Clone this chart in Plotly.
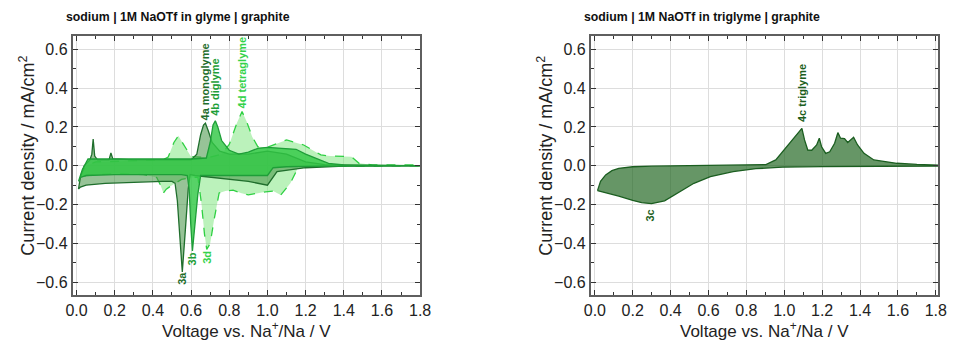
import plotly.graph_objects as go

# ---------------- data ----------------
# left panel: sodium | 1M NaOTf in glyme | graphite
mono_anodic_V = [0.01, 0.02, 0.04, 0.07, 0.08, 0.087, 0.095, 0.11, 0.17, 0.18, 0.19, 0.3, 0.45, 0.6, 0.63, 0.65,
                 0.665, 0.675, 0.69, 0.71, 0.75, 0.8, 0.9, 1.0, 1.1, 1.15, 1.2, 1.3, 1.5, 1.8]
mono_anodic_I = [-0.12, -0.06, 0.0, 0.03, 0.06, 0.137, 0.05, 0.03, 0.03, 0.066, 0.035, 0.03, 0.03, 0.03, 0.06, 0.16,
                 0.21, 0.219, 0.18, 0.12, 0.075, 0.06, 0.06, 0.075, 0.06, 0.04, 0.02, 0.006, 0.002, 0.001]
mono_cathodic_V = [1.8, 1.4, 1.2, 1.05, 1.0, 0.9, 0.8, 0.7, 0.62, 0.595, 0.585, 0.57, 0.554, 0.54, 0.528, 0.516,
                   0.5, 0.45, 0.3, 0.15, 0.05, 0.02, 0.01]
mono_cathodic_I = [0.0, -0.002, -0.01, -0.03, -0.1, -0.08, -0.07, -0.06, -0.05, -0.045, -0.12, -0.33, -0.546,
                   -0.35, -0.18, -0.09, -0.08, -0.08, -0.085, -0.09, -0.1, -0.11, -0.12]

di_anodic_V = [0.01, 0.03, 0.06, 0.2, 0.4, 0.6, 0.68, 0.7, 0.715, 0.727, 0.74, 0.76, 0.8, 0.85, 0.9, 0.95, 1.0,
               1.1, 1.15, 1.2, 1.26, 1.32, 1.4, 1.8]
di_anodic_I = [-0.08, -0.02, 0.035, 0.035, 0.035, 0.035, 0.04, 0.12, 0.21, 0.232, 0.2, 0.13, 0.08, 0.06, 0.07,
               0.09, 0.095, 0.09, 0.085, 0.06, 0.035, 0.012, 0.004, 0.002]
di_cathodic_V = [1.8, 1.3, 1.1, 1.03, 1.0, 0.9, 0.8, 0.7, 0.65, 0.635, 0.62, 0.607, 0.598, 0.59, 0.58, 0.55, 0.4,
                 0.2, 0.05, 0.02, 0.01]
di_cathodic_I = [0.0, -0.002, -0.005, -0.01, -0.05, -0.05, -0.05, -0.05, -0.05, -0.15, -0.32, -0.438, -0.3, -0.12,
                 -0.05, -0.045, -0.045, -0.045, -0.05, -0.06, -0.08]

tetra_anodic_V = [0.02, 0.05, 0.1, 0.3, 0.45, 0.48, 0.51, 0.533, 0.56, 0.6, 0.65, 0.7, 0.76, 0.8, 0.84, 0.867, 0.89,
                  0.92, 0.95, 1.0, 1.055, 1.1, 1.19, 1.28, 1.33, 1.38, 1.44, 1.48, 1.55, 1.8]
tetra_anodic_I = [-0.05, 0.0, 0.02, 0.025, 0.03, 0.045, 0.12, 0.154, 0.11, 0.047, 0.045, 0.045, 0.06, 0.11, 0.22,
                  0.279, 0.23, 0.15, 0.098, 0.095, 0.116, 0.133, 0.107, 0.056, 0.05, 0.047, 0.047, 0.013, 0.005, 0.004]
tetra_cathodic_V = [1.8, 1.3, 1.2, 1.16, 1.12, 1.07, 1.03, 0.99, 0.95, 0.9, 0.86, 0.82, 0.78, 0.747, 0.72, 0.7,
                    0.682, 0.67, 0.655, 0.636, 0.6, 0.55, 0.5, 0.47, 0.455, 0.44, 0.42, 0.35, 0.2, 0.05, 0.02]
tetra_cathodic_I = [0.0, -0.002, -0.004, -0.01, -0.09, -0.15, -0.13, -0.134, -0.14, -0.15, -0.14, -0.125, -0.13,
                    -0.14, -0.28, -0.4, -0.43, -0.35, -0.2, -0.06, -0.06, -0.07, -0.1, -0.12, -0.14, -0.1, -0.06,
                    -0.045, -0.04, -0.05, -0.06]

# right panel: sodium | 1M NaOTf in triglyme | graphite
tri_anodic_V = [0.014, 0.03, 0.057, 0.09, 0.126, 0.2, 0.3, 0.47, 0.7, 0.85, 0.903, 0.955, 1.007, 1.058, 1.093, 1.107,
                1.124, 1.145, 1.171, 1.185, 1.197, 1.219, 1.24, 1.266, 1.283, 1.297, 1.318, 1.335, 1.366, 1.387,
                1.421, 1.473, 1.594, 1.7, 1.81]
tri_anodic_I = [-0.128, -0.08, -0.047, -0.025, -0.013, -0.005, -0.002, 0.0, 0.001, 0.002, 0.006, 0.03, 0.09, 0.15,
                0.193, 0.133, 0.081, 0.08, 0.107, 0.142, 0.098, 0.064, 0.072, 0.116, 0.171, 0.142, 0.14, 0.12, 0.147,
                0.107, 0.064, 0.03, 0.013, 0.007, 0.004]
tri_cathodic_V = [1.81, 1.4, 1.2, 0.99, 0.85, 0.73, 0.61, 0.523, 0.437, 0.368, 0.299, 0.247, 0.2, 0.126, 0.014]
tri_cathodic_I = [-0.001, -0.002, -0.004, -0.007, -0.015, -0.03, -0.056, -0.09, -0.142, -0.18, -0.195, -0.19,
                  -0.178, -0.156, -0.128]

x_ticks = [0.0, 0.2, 0.4, 0.6, 0.8, 1.0, 1.2, 1.4, 1.6, 1.8]
y_ticks = [-0.6, -0.4, -0.2, 0.0, 0.2, 0.4, 0.6]

# peak labels: (text, V, I, colour, axis)
peak_labels = [
    ("4a monoglyme", 0.675, 0.431, "#1f6e2c", "1"),
    ("4b diglyme", 0.727, 0.403, "#1e9e38", "1"),
    ("4d tetraglyme", 0.867, 0.481, "#34d24a", "1"),
    ("3a", 0.554, -0.58, "#1f6e2c", "1"),
    ("3b", 0.607, -0.48, "#1e9e38", "1"),
    ("3d", 0.682, -0.47, "#34d24a", "1"),
    ("4c triglyme", 1.093, 0.374, "#1b5e20", "2"),
    ("3c", 0.29, -0.257, "#1b5e20", "2"),
]

# ---------------- figure ----------------
W, H = 963, 347
fig = go.Figure()


def loop(aV, aI, cV, cI, line_color, fill_color, dash, axis):
    fig.add_trace(go.Scatter(
        x=aV + cV, y=aI + cI, mode="lines", fill="toself", fillcolor=fill_color,
        line=dict(color=line_color, width=1.3, dash=dash),
        xaxis="x" + ("" if axis == "1" else axis), yaxis="y" + ("" if axis == "1" else axis),
        showlegend=False, hoverinfo="skip"))


loop(tetra_anodic_V, tetra_anodic_I, tetra_cathodic_V, tetra_cathodic_I,
     "#2fd043", "rgba(120,230,120,0.5)", "dash", "1")
loop(mono_anodic_V, mono_anodic_I, mono_cathodic_V, mono_cathodic_I,
     "#1f6e2c", "rgba(65,145,65,0.55)", "solid", "1")
loop(di_anodic_V, di_anodic_I, di_cathodic_V, di_cathodic_I,
     "#1e9e38", "rgba(50,200,70,0.82)", "solid", "1")
loop(tri_anodic_V, tri_anodic_I, tri_cathodic_V, tri_cathodic_I,
     "#1b5e20", "rgba(30,100,30,0.68)", "solid", "2")

FONT = "Liberation Sans, Arial, sans-serif"


def px_x(p):
    return p / W


def px_y(p):
    return 1 - p / H


axis_common = dict(
    showline=True, linecolor="#5f5f5f", linewidth=2, mirror="allticks",
    ticks="inside", ticklen=5, tickwidth=1, tickcolor="#333333",
    showgrid=True, gridcolor="#dddddd", gridwidth=1, zeroline=False,
    tickfont=dict(family=FONT, size=16, color="#222222"),
)

xa = dict(axis_common, tickvals=x_ticks, tickformat=".1f",
          minor=dict(ticks="inside", ticklen=3, tickcolor="#333333", dtick=0.1, showgrid=False))
ya = dict(axis_common, tickvals=y_ticks, tickformat=".1f", range=[-0.665, 0.668],
          minor=dict(ticks="inside", ticklen=3, tickcolor="#333333", dtick=0.1, showgrid=False))

fig.update_layout(
    width=W, height=H, margin=dict(l=0, r=0, t=0, b=0),
    paper_bgcolor="white", plot_bgcolor="white",
    xaxis=dict(xa, domain=[px_x(67), px_x(421)], range=[-0.02, 1.8], anchor="y"),
    yaxis=dict(ya, domain=[px_y(295), px_y(36)], anchor="x"),
    xaxis2=dict(xa, domain=[px_x(595), px_x(949)], range=[-0.021, 1.813], anchor="y2"),
    yaxis2=dict(ya, domain=[px_y(295), px_y(36)], anchor="x2"),
)

ann = []
for text, v, i, col, ax in peak_labels:
    ann.append(dict(text="<b>%s</b>" % text, x=v, y=i,
                    xref="x" if ax == "1" else "x2", yref="y" if ax == "1" else "y2",
                    textangle=-90, showarrow=False, xanchor="center", yanchor="middle",
                    font=dict(family=FONT, size=11, color=col)))

# panel titles
for text, x0 in [("sodium | 1M NaOTf in glyme | graphite", 58),
                 ("sodium | 1M NaOTf in triglyme | graphite", 586)]:
    ann.append(dict(text="<b>%s</b>" % text, x=px_x(x0), y=px_y(17), xref="paper", yref="paper",
                    xanchor="left", yanchor="middle", showarrow=False,
                    font=dict(family=FONT, size=12.3, color="#111111")))

# axis titles
for cx in [244, 772]:
    ann.append(dict(text="Voltage vs. Na<sup>+</sup>/Na / V", x=px_x(cx), y=px_y(330),
                    xref="paper", yref="paper", xanchor="center", yanchor="middle", showarrow=False,
                    font=dict(family=FONT, size=17, color="#222222")))
for cx in [20, 548]:
    ann.append(dict(text="Current density / mA/cm<sup>2</sup>", x=px_x(cx), y=px_y(156),
                    xref="paper", yref="paper", xanchor="center", yanchor="middle", showarrow=False,
                    textangle=-90, font=dict(family=FONT, size=18, color="#222222")))

fig.update_layout(annotations=ann)
fig.write_html("out.html")
